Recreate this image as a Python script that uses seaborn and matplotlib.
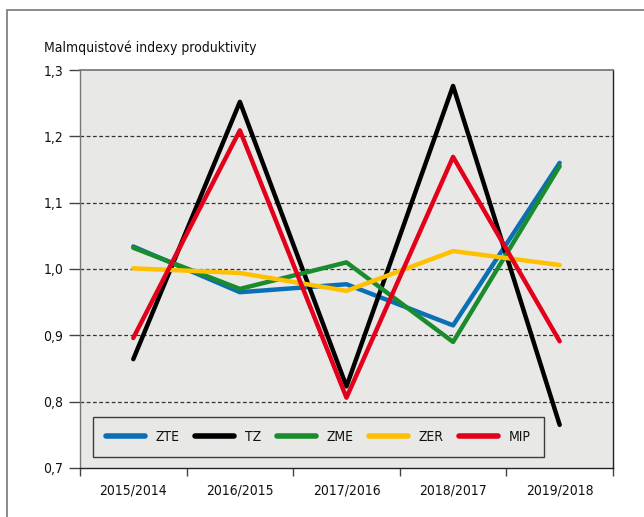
import matplotlib

matplotlib.use("Agg")

import matplotlib.pyplot as plt
import pandas as pd
import seaborn as sns
from matplotlib.patches import Rectangle
from matplotlib.ticker import FixedLocator, FuncFormatter

periods = ["2015/2014", "2016/2015", "2017/2016", "2018/2017", "2019/2018"]
zte = [1.034, 0.965, 0.977, 0.915, 1.160]
tz = [0.864, 1.252, 0.823, 1.276, 0.765]
zme = [1.032, 0.970, 1.010, 0.890, 1.155]
zer = [1.001, 0.994, 0.967, 1.027, 1.006]
mip = [0.896, 1.209, 0.806, 1.169, 0.891]

series = {"ZTE": zte, "TZ": tz, "ZME": zme, "ZER": zer, "MIP": mip}
colors = {"ZTE": "#0a6fb5", "TZ": "#000000", "ZME": "#1a8c2e", "ZER": "#ffc000", "MIP": "#e3001b"}

df = pd.DataFrame(
    [(i, name, v) for name, vals in series.items() for i, v in enumerate(vals)],
    columns=["pos", "series", "value"],
)

sns.set_theme(style="white")
plt.rcParams["font.family"] = ["DejaVu Sans"]
plt.rcParams["font.stretch"] = "condensed"
plt.rcParams["text.color"] = "#111111"
plt.rcParams["xtick.color"] = "#111111"
plt.rcParams["ytick.color"] = "#111111"

fig = plt.figure(figsize=(6.44, 5.17), dpi=100)
ax = fig.add_axes([0.1242, 0.0948, 0.8276, 0.7698])
ax.set_facecolor("#e8e8e6")

sns.lineplot(
    data=df, x="pos", y="value", hue="series", hue_order=list(series),
    palette=colors, linewidth=3.2, ax=ax, legend=True,
)

ax.set_xlim(-0.5, 4.5)
ax.set_ylim(0.7, 1.3)
ax.set_xticks(range(len(periods)))
ax.set_xticklabels(periods, fontsize=10)
ax.xaxis.set_minor_locator(FixedLocator([i - 0.5 for i in range(len(periods) + 1)]))
ax.tick_params(axis="x", which="major", length=0, pad=11, bottom=False)
ax.tick_params(axis="x", which="minor", length=6, width=1, color="#444444", direction="out", bottom=True)
ax.set_yticks([0.7, 0.8, 0.9, 1.0, 1.1, 1.2, 1.3])
ax.yaxis.set_major_formatter(FuncFormatter(lambda v, _: f"{v:.1f}".replace(".", ",")))
ax.tick_params(axis="y", length=8, width=1, color="#444444", direction="out", labelsize=10, left=True, pad=4)
ax.set_xlabel("")
ax.set_ylabel("")

for y in [0.8, 0.9, 1.0, 1.1, 1.2]:
    ax.axhline(y, color="#333333", linestyle=(0, (3, 2)), linewidth=0.9, zorder=0.5)

for side in ["left", "right", "bottom"]:
    ax.spines[side].set_visible(True)
    ax.spines[side].set_color("#222222")
    ax.spines[side].set_linewidth(1.0)
ax.spines["left"].set_color("#777777")
ax.spines["top"].set_color("#777777")
ax.spines["top"].set_linestyle((0, (2, 1)))

handles, labels = ax.get_legend_handles_labels()
leg = ax.legend(
    handles, labels, ncol=5, loc="lower left", bbox_to_anchor=(0.0244, 0.0276),
    borderaxespad=0, frameon=True, fancybox=False, fontsize=10, handlelength=2.8,
    borderpad=0.95, handletextpad=0.75, columnspacing=1.15,
)
leg.get_frame().set_edgecolor("#111111")
leg.get_frame().set_facecolor("#e8e8e6")
leg.get_frame().set_linewidth(1.0)
for line in leg.get_lines():
    line.set_linewidth(4)

fig.text(0.068, 0.894, "Malmquistové indexy produktivity", fontsize=10, ha="left", va="bottom")
fig.patches.append(
    Rectangle((0.011, -0.05), 1.1, 1.03, transform=fig.transFigure, fill=False,
              edgecolor="#777777", linewidth=1.2)
)

fig.savefig("out.png", dpi=100)
